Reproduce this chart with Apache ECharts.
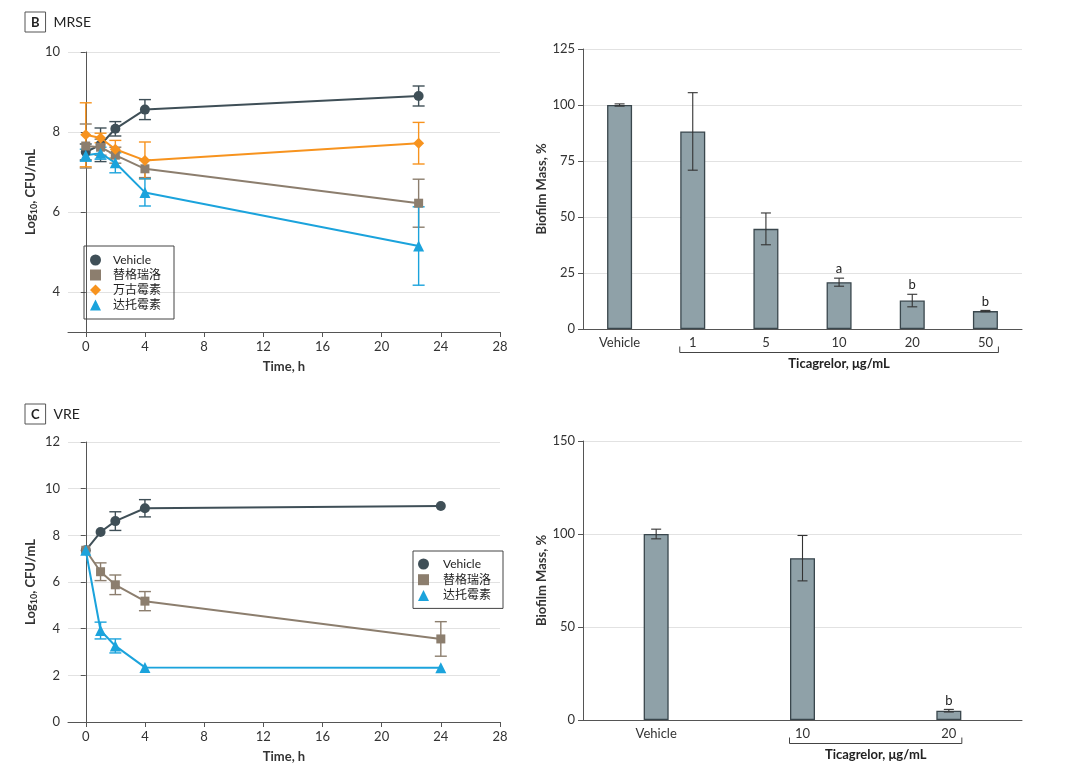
<!DOCTYPE html>
<html>
<head>
<meta charset="utf-8">
<script src="https://cdn.jsdelivr.net/npm/echarts@6/dist/echarts.min.js"></script>
<style>html,body{margin:0;padding:0;background:#fff}#c{width:1080px;height:764px}</style>
</head>
<body>
<div id="c"></div>
<script>
// ---------- data ----------
const seriesNames = ['Vehicle', '替格瑞洛', '万古霉素', '达托霉素'];
const timeTicks = [0, 4, 8, 12, 16, 20, 24, 28];
const mrseYTicks = [4, 6, 8, 10];
const vreYTicks = [0, 2, 4, 6, 8, 10, 12];

const mrseTime = [0, 1, 2, 4, 22.5];
const mrseVehicle = [7.50, 7.68, 8.08, 8.56, 8.90];
const mrseVehicleErr = [0.20, 0.42, 0.18, 0.25, 0.25];
const mrseTica = [7.65, 7.62, 7.42, 7.08, 6.22];
const mrseTicaErr = [0.55, 0.20, 0.20, 0.22, 0.60];
const mrseVanco = [7.93, 7.85, 7.57, 7.29, 7.72];
const mrseVancoErr = [0.80, 0.12, 0.22, 0.46, 0.52];
const mrseDapto = [7.42, 7.47, 7.23, 6.49, 5.15];
const mrseDaptoErr = [0.15, 0.15, 0.25, 0.34, 0.98];

const vreTime = [0, 1, 2, 4, 24];
const vreVehicle = [7.36, 8.14, 8.61, 9.16, 9.26];
const vreVehicleErr = [0, 0, 0.40, 0.37, 0];
const vreTica = [7.36, 6.44, 5.88, 5.18, 3.56];
const vreTicaErr = [0, 0.38, 0.42, 0.41, 0.74];
const vreDapto = [7.36, 3.92, 3.26, 2.34, 2.33];
const vreDaptoErr = [0, 0.36, 0.30, 0, 0];

const mrseBarCats = ['Vehicle', '1', '5', '10', '20', '50'];
const mrseBarVals = [100, 88.2, 44.7, 20.9, 12.7, 8.0];
const mrseBarErr = [0.5, 17.3, 7.1, 1.8, 2.8, 0.3];
const mrseBarLetters = ['', '', '', 'a', 'b', 'b'];

const vreBarCats = ['Vehicle', '10', '20'];
const vreBarVals = [100, 87, 5];
const vreBarErr = [2.6, 12.2, 0.7];
const vreBarLetters = ['', '', 'b'];

const ticaLabel = 'Ticagrelor, μg/mL';

// ---------- styles ----------
const FONT = 'Lato, "Noto Sans CJK SC", sans-serif';
const colors = { 'Vehicle': '#3f4f57', '替格瑞洛': '#8c7e6e', '万古霉素': '#f7931e', '达托霉素': '#1ba3dc' };
const symbols = { 'Vehicle': 'circle', '替格瑞洛': 'rect', '万古霉素': 'diamond', '达托霉素': 'triangle' };
const symSizes = { 'Vehicle': 10, '替格瑞洛': 9, '万古霉素': 11, '达托霉素': 11 };
const axisLineColor = '#555';
const gridLineColor = '#e2e2e2';

function pairs(xs, ys) { return xs.map((x, i) => [x, ys[i]]); }
function triples(xs, ys, es) { return xs.map((x, i) => [x, ys[i], es[i]]); }

function lineSeries(name, xs, ys, gi) {
  return {
    type: 'line', name, xAxisIndex: gi, yAxisIndex: gi, data: pairs(xs, ys),
    symbol: symbols[name], symbolSize: symSizes[name], showSymbol: true,
    lineStyle: { width: 2, color: colors[name] }, itemStyle: { color: colors[name] },
    z: 3, animation: false
  };
}
function errSeries(name, xs, ys, es, gi) {
  return {
    type: 'custom', name, xAxisIndex: gi, yAxisIndex: gi, z: 2, animation: false,
    itemStyle: { color: colors[name] }, silent: true,
    data: triples(xs, ys, es),
    renderItem: function (params, api) {
      const x = api.value(0), y = api.value(1), e = api.value(2);
      if (!e) return null;
      const hi = api.coord([x, y + e]), lo = api.coord([x, y - e]);
      const st = { stroke: colors[name], lineWidth: 1.4 };
      const cw = 6;
      return { type: 'group', children: [
        { type: 'line', shape: { x1: hi[0], y1: hi[1], x2: lo[0], y2: lo[1] }, style: st },
        { type: 'line', shape: { x1: hi[0] - cw, y1: hi[1], x2: hi[0] + cw, y2: hi[1] }, style: st },
        { type: 'line', shape: { x1: lo[0] - cw, y1: lo[1], x2: lo[0] + cw, y2: lo[1] }, style: st }
      ]};
    }
  };
}
function barErrSeries(vals, errs, letters, gi) {
  return {
    type: 'custom', xAxisIndex: gi, yAxisIndex: gi, z: 4, animation: false, silent: true,
    data: vals.map((v, i) => [i, v, errs[i]]),
    renderItem: function (params, api) {
      const i = api.value(0), v = api.value(1), e = api.value(2);
      const hi = api.coord([i, v + e]), lo = api.coord([i, v - e]);
      const st = { stroke: '#333', lineWidth: 1.1 };
      const cw = 5;
      const ch = [
        { type: 'line', shape: { x1: hi[0], y1: hi[1], x2: lo[0], y2: lo[1] }, style: st },
        { type: 'line', shape: { x1: hi[0] - cw, y1: hi[1], x2: hi[0] + cw, y2: hi[1] }, style: st },
        { type: 'line', shape: { x1: lo[0] - cw, y1: lo[1], x2: lo[0] + cw, y2: lo[1] }, style: st }
      ];
      const letter = letters[params.dataIndex];
      if (letter) {
        ch.push({ type: 'text', x: hi[0], y: hi[1] - 9, style: { text: letter, fill: '#222', font: '13px ' + FONT, align: 'center', verticalAlign: 'middle' } });
      }
      return { type: 'group', children: ch };
    }
  };
}
function bracketSeries(first, last, gi) {
  return {
    type: 'custom', xAxisIndex: gi, yAxisIndex: gi, z: 4, animation: false, silent: true,
    data: [[first, last]],
    renderItem: function (params, api) {
      const a = api.coord([api.value(0), 0]), b = api.coord([api.value(1), 0]);
      const half = 13;
      const x0 = a[0] - half, x1 = b[0] + half, y = a[1] + 23.5;
      const st = { stroke: '#444', lineWidth: 1 };
      return { type: 'group', children: [
        { type: 'polyline', shape: { points: [[x0, y - 6], [x0, y], [x1, y], [x1, y - 6]] }, style: Object.assign({ fill: null }, st) },
        { type: 'text', x: (x0 + x1) / 2, y: y + 11, style: { text: ticaLabel, fill: '#222', font: 'bold 13px ' + FONT, align: 'center', verticalAlign: 'middle' } }
      ]};
    }
  };
}
function barSeries(vals, gi) {
  return {
    type: 'bar', xAxisIndex: gi, yAxisIndex: gi, data: vals, barWidth: 25, z: 3, animation: false,
    itemStyle: { color: '#8fa1a8', borderColor: '#3a474d', borderWidth: 1.3 }
  };
}

const axisLine = { show: true, lineStyle: { color: axisLineColor, width: 1 } };
const axisTickBase = { show: true, length: 5, inside: false, lineStyle: { color: axisLineColor } };
const labelBase = { color: '#333', fontSize: 13, fontFamily: FONT };
const logName = 'Log{sub|10}, CFU/mL';
const logNameStyle = { color: '#333', fontSize: 13, fontFamily: FONT, fontWeight: 'bold',
  rich: { sub: { fontSize: 9, fontFamily: FONT, fontWeight: 'bold', color: '#333', padding: [7, 0, 0, 0] } } };

function timeAxis(gi) {
  return {
    type: 'value', gridIndex: gi, min: -1.2, max: 28,
    axisLine, axisTick: Object.assign({ customValues: timeTicks }, axisTickBase),
    axisLabel: Object.assign({ customValues: timeTicks, margin: 8 }, labelBase),
    splitLine: { show: false },
    name: 'Time, h', nameLocation: 'middle', nameGap: 28,
    nameTextStyle: { color: '#333', fontSize: 13, fontWeight: 'bold', fontFamily: FONT }
  };
}
function panelTitle(letter, text, top) {
  return { left: 25, top: top, padding: 0, text: '{box|' + letter + '}{t|' + text + '}',
    textStyle: { fontWeight: 'normal', rich: {
      box: { borderColor: '#555', borderWidth: 1, padding: [4, 6, 3, 6], fontSize: 13, fontWeight: 'bold', color: '#222', fontFamily: FONT },
      t: { fontSize: 14, color: '#222', fontWeight: 'normal', padding: [0, 0, 0, 8], fontFamily: FONT } } } };
}

const option = {
  backgroundColor: '#fff',
  textStyle: { fontFamily: FONT },
  animation: false,
  title: [ panelTitle('B', 'MRSE', 12), panelTitle('C', 'VRE', 404) ],
  grid: [
    { left: 68, top: 52, width: 432, height: 280, outerBoundsMode: 'none', containLabel: false },
    { left: 583, top: 49, width: 439, height: 280, outerBoundsMode: 'none', containLabel: false },
    { left: 68, top: 442, width: 432, height: 280, outerBoundsMode: 'none', containLabel: false },
    { left: 583, top: 441, width: 439, height: 279, outerBoundsMode: 'none', containLabel: false }
  ],
  legend: [
    { left: 84, top: 246, orient: 'vertical', itemWidth: 11, itemHeight: 11, itemGap: 3,
      padding: [8, 13, 8, 6], borderColor: '#444', borderWidth: 1,
      textStyle: { fontSize: 12, color: '#222', fontFamily: FONT, padding: [0, 0, 0, 7] },
      data: seriesNames.map(n => ({ name: n, icon: symbols[n] })) },
    { left: 413, top: 551, orient: 'vertical', itemWidth: 11, itemHeight: 11, itemGap: 3.7,
      padding: [7, 12, 7, 5], borderColor: '#444', borderWidth: 1,
      textStyle: { fontSize: 12, color: '#222', fontFamily: FONT, padding: [0, 0, 0, 9] },
      data: ['Vehicle', '替格瑞洛', '达托霉素'].map(n => ({ name: n, icon: symbols[n] })) }
  ],
  xAxis: [
    timeAxis(0),
    { type: 'category', gridIndex: 1, data: mrseBarCats, axisLine, axisTick: { show: false },
      axisLabel: Object.assign({}, labelBase, { margin: 7 }), splitLine: { show: false } },
    timeAxis(2),
    { type: 'category', gridIndex: 3, data: vreBarCats, axisLine, axisTick: { show: false },
      axisLabel: Object.assign({}, labelBase, { margin: 7 }), splitLine: { show: false } }
  ],
  yAxis: [
    { type: 'value', gridIndex: 0, min: 3, max: 10, axisLine,
      axisTick: Object.assign({ customValues: mrseYTicks }, axisTickBase),
      axisLabel: Object.assign({ customValues: mrseYTicks, margin: 8 }, labelBase),
      splitLine: { show: true, lineStyle: { color: gridLineColor } },
      name: logName, nameLocation: 'middle', nameGap: 29, nameTextStyle: logNameStyle },
    { type: 'value', gridIndex: 1, min: 0, max: 125, interval: 25, axisLine,
      axisTick: axisTickBase, axisLabel: Object.assign({ margin: 8 }, labelBase),
      splitLine: { show: true, lineStyle: { color: gridLineColor } },
      name: 'Biofilm Mass, %', nameLocation: 'middle', nameGap: 32,
      nameTextStyle: { color: '#333', fontSize: 13, fontWeight: 'bold', fontFamily: FONT } },
    { type: 'value', gridIndex: 2, min: 0, max: 12, interval: 2, axisLine,
      axisTick: Object.assign({ customValues: vreYTicks }, axisTickBase),
      axisLabel: Object.assign({ customValues: vreYTicks, margin: 8 }, labelBase),
      splitLine: { show: true, lineStyle: { color: gridLineColor } },
      name: logName, nameLocation: 'middle', nameGap: 29, nameTextStyle: logNameStyle },
    { type: 'value', gridIndex: 3, min: 0, max: 150, interval: 50, axisLine,
      axisTick: axisTickBase, axisLabel: Object.assign({ margin: 8 }, labelBase),
      splitLine: { show: true, lineStyle: { color: gridLineColor } },
      name: 'Biofilm Mass, %', nameLocation: 'middle', nameGap: 32,
      nameTextStyle: { color: '#333', fontSize: 13, fontWeight: 'bold', fontFamily: FONT } }
  ],
  series: [
    errSeries('Vehicle', mrseTime, mrseVehicle, mrseVehicleErr, 0),
    errSeries('替格瑞洛', mrseTime, mrseTica, mrseTicaErr, 0),
    errSeries('万古霉素', mrseTime, mrseVanco, mrseVancoErr, 0),
    errSeries('达托霉素', mrseTime, mrseDapto, mrseDaptoErr, 0),
    lineSeries('Vehicle', mrseTime, mrseVehicle, 0),
    lineSeries('替格瑞洛', mrseTime, mrseTica, 0),
    lineSeries('万古霉素', mrseTime, mrseVanco, 0),
    lineSeries('达托霉素', mrseTime, mrseDapto, 0),

    errSeries('Vehicle', vreTime, vreVehicle, vreVehicleErr, 2),
    errSeries('替格瑞洛', vreTime, vreTica, vreTicaErr, 2),
    errSeries('达托霉素', vreTime, vreDapto, vreDaptoErr, 2),
    lineSeries('Vehicle', vreTime, vreVehicle, 2),
    lineSeries('替格瑞洛', vreTime, vreTica, 2),
    lineSeries('达托霉素', vreTime, vreDapto, 2),

    barSeries(mrseBarVals, 1),
    barErrSeries(mrseBarVals, mrseBarErr, mrseBarLetters, 1),
    bracketSeries(1, mrseBarCats.length - 1, 1),

    barSeries(vreBarVals, 3),
    barErrSeries(vreBarVals, vreBarErr, vreBarLetters, 3),
    bracketSeries(1, vreBarCats.length - 1, 3)
  ]
};

const chart = echarts.init(document.getElementById('c'), null, { renderer: 'canvas' });
chart.setOption(option);
</script>
</body>
</html>
